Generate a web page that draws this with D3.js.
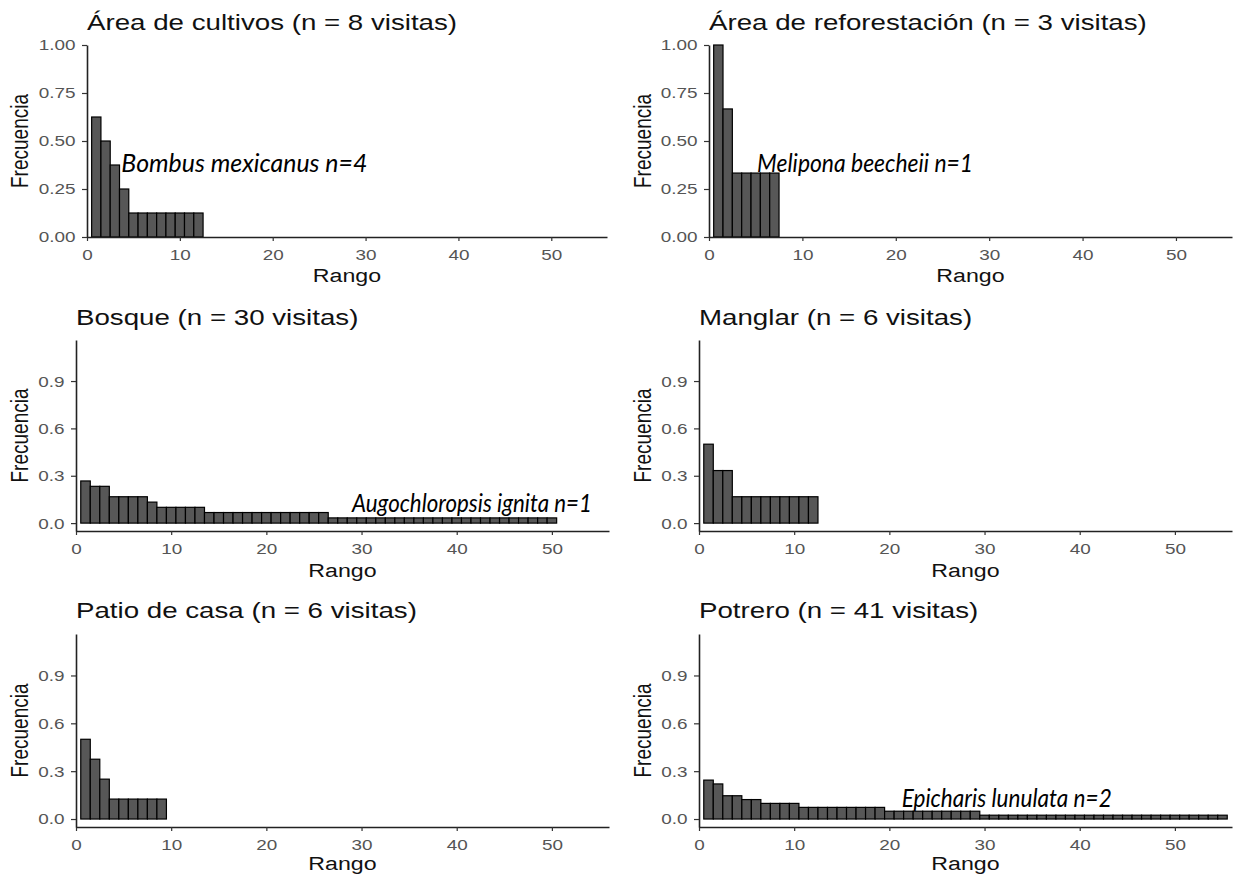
<!DOCTYPE html>
<html>
<head>
<meta charset="utf-8">
<script src="https://cdn.jsdelivr.net/npm/d3@7"></script>
<style>
  body { margin: 0; background: #fff; }
  svg { display: block; }
</style>
</head>
<body>
<div id="chart"></div>
<script>
// --- data ---
const titles = [
  "Área de cultivos (n = 8 visitas)",
  "Área de reforestación (n = 3 visitas)",
  "Bosque (n = 30 visitas)",
  "Manglar (n = 6 visitas)",
  "Patio de casa (n = 6 visitas)",
  "Potrero (n = 41 visitas)"
];

// frequency of each rank (rank 1, 2, 3 ...)
const cultivos = [0.625, 0.5, 0.375, 0.25, 0.125, 0.125, 0.125, 0.125, 0.125, 0.125, 0.125, 0.125];
const reforestacion = [1.0, 0.667, 0.333, 0.333, 0.333, 0.333, 0.333];
const bosque = [0.267, 0.233, 0.233, 0.167, 0.167, 0.167, 0.167, 0.133, 0.1, 0.1,
  0.1, 0.1, 0.1, 0.067, 0.067, 0.067, 0.067, 0.067, 0.067, 0.067,
  0.067, 0.067, 0.067, 0.067, 0.067, 0.067, 0.033, 0.033, 0.033, 0.033,
  0.033, 0.033, 0.033, 0.033, 0.033, 0.033, 0.033, 0.033, 0.033, 0.033,
  0.033, 0.033, 0.033, 0.033, 0.033, 0.033, 0.033, 0.033, 0.033, 0.033];
const manglar = [0.5, 0.333, 0.333, 0.167, 0.167, 0.167, 0.167, 0.167, 0.167, 0.167, 0.167, 0.167];
const patio = [0.5, 0.375, 0.25, 0.125, 0.125, 0.125, 0.125, 0.125, 0.125];
const potrero = [0.244, 0.22, 0.146, 0.146, 0.122, 0.122, 0.098, 0.098, 0.098, 0.098,
  0.073, 0.073, 0.073, 0.073, 0.073, 0.073, 0.073, 0.073, 0.073, 0.049,
  0.049, 0.049, 0.049, 0.049, 0.049, 0.049, 0.049, 0.049, 0.049, 0.024,
  0.024, 0.024, 0.024, 0.024, 0.024, 0.024, 0.024, 0.024, 0.024, 0.024,
  0.024, 0.024, 0.024, 0.024, 0.024, 0.024, 0.024, 0.024, 0.024, 0.024,
  0.024, 0.024, 0.024, 0.024, 0.024];

const series = [cultivos, reforestacion, bosque, manglar, patio, potrero];

// species label for some panels (null = no label)
const speciesLabels = [
  "Bombus mexicanus n=4",
  "Melipona beecheii n=1",
  "Augochloropsis ignita n=1",
  null,
  null,
  "Epicharis lunulata n=2"
];

const xTicks = [0, 10, 20, 30, 40, 50];
const yTicksTop = [0, 0.25, 0.5, 0.75, 1];
const yTicksLow = [0, 0.3, 0.6, 0.9];

// --- layout of every panel (pixels) ---
const panels = [
  { left: 87,  right: 607,  top: 45,  bottom: 237, yDom: [0, 1],        ticks: yTicksTop, fmt: ".2f", titleY: 30,  rangoY: 282, frecX: 28,  label: [3.7, 0.34],   labelW: 246 },
  { left: 709, right: 1232, top: 45,  bottom: 237, yDom: [0, 1],        ticks: yTicksTop, fmt: ".2f", titleY: 30,  rangoY: 282, frecX: 651, label: [5.15, 0.34],  labelW: 216 },
  { left: 76,  right: 609,  top: 340, bottom: 531, yDom: [-0.05, 1.16], ticks: yTicksLow, fmt: ".1f", titleY: 325, rangoY: 577, frecX: 28,  label: [29.0, 0.07],  labelW: 240 },
  { left: 699, right: 1232, top: 340, bottom: 531, yDom: [-0.05, 1.16], ticks: yTicksLow, fmt: ".1f", titleY: 325, rangoY: 577, frecX: 651, label: null },
  { left: 76,  right: 609,  top: 634, bottom: 827, yDom: [-0.05, 1.16], ticks: yTicksLow, fmt: ".1f", titleY: 618, rangoY: 870, frecX: 28,  label: null },
  { left: 699, right: 1232, top: 634, bottom: 827, yDom: [-0.05, 1.16], ticks: yTicksLow, fmt: ".1f", titleY: 618, rangoY: 870, frecX: 651, label: [21.3, 0.075], labelW: 210 }
];

const SX = 1.22; // the original picture is stretched sideways, so the text is too
const font = "'Liberation Sans', Arial, sans-serif";

const svg = d3.select("#chart")
  .append("svg")
    .attr("width", 1236)
    .attr("height", 878);

panels.forEach((p, i) => {
  const data = series[i];
  const x = d3.scaleLinear().domain([0, 56]).range([p.left, p.right]);
  const y = d3.scaleLinear().domain(p.yDom).range([p.bottom, p.top]);
  const g = svg.append("g");

  // bars, one per rank, 1 unit wide
  g.selectAll("rect")
    .data(data)
    .join("rect")
      .attr("x", (d, j) => x(j + 0.5))
      .attr("width", (d, j) => x(j + 1.5) - x(j + 0.5))
      .attr("y", d => y(d))
      .attr("height", d => y(0) - y(d))
      .attr("fill", "#575757")
      .attr("stroke", "#000")
      .attr("stroke-width", 1.2);

  // x axis
  const xa = g.append("g")
    .attr("transform", `translate(0,${p.bottom})`)
    .call(d3.axisBottom(x).tickValues(xTicks).tickSize(4).tickSizeOuter(0).tickPadding(8).tickFormat(d3.format("d")));

  // y axis
  const ya = g.append("g")
    .attr("transform", `translate(${p.left},0)`)
    .call(d3.axisLeft(y).tickValues(p.ticks).tickSize(5).tickSizeOuter(0).tickFormat(d3.format(p.fmt)));

  [xa, ya].forEach(a => {
    a.select(".domain").attr("stroke", "#222").attr("stroke-width", 1.6);
    a.selectAll(".tick line").attr("stroke", "#333").attr("stroke-width", 1.2);
    a.selectAll(".tick text")
      .attr("fill", "#555")
      .style("font-family", font)
      .style("font-size", "15.5px")
      .attr("transform", `scale(${SX},1)`);
  });
  ya.selectAll(".tick text").attr("x", -11.5 / SX);

  // panel title
  svg.append("text")
    .attr("transform", `translate(${p.left},${p.titleY}) scale(${SX},1)`)
    .text(titles[i])
    .style("font-family", font)
    .style("font-size", "22.7px")
    .attr("fill", "#111");

  // axis titles
  svg.append("text")
    .attr("transform", `translate(${(p.left + p.right) / 2},${p.rangoY}) scale(${SX},1)`)
    .attr("text-anchor", "middle")
    .text("Rango")
    .style("font-family", font)
    .style("font-size", "19px")
    .attr("fill", "#111");

  svg.append("text")
    .attr("transform", `translate(${p.frecX},${(p.top + p.bottom) / 2}) scale(${SX},1) rotate(-90)`)
    .attr("text-anchor", "middle")
    .text("Frecuencia")
    .style("font-family", font)
    .style("font-size", "19px")
    .attr("fill", "#111");

  // species label inside the plot
  if (speciesLabels[i]) {
    svg.append("text")
      .attr("x", x(p.label[0]))
      .attr("y", y(p.label[1]))
      .attr("textLength", p.labelW)
      .attr("lengthAdjust", "spacingAndGlyphs")
      .text(speciesLabels[i])
      .style("font-family", "Lato, 'Open Sans', sans-serif")
      .style("font-style", "italic")
      .style("font-size", "26px")
      .attr("fill", "#000");
  }
});
</script>
</body>
</html>
